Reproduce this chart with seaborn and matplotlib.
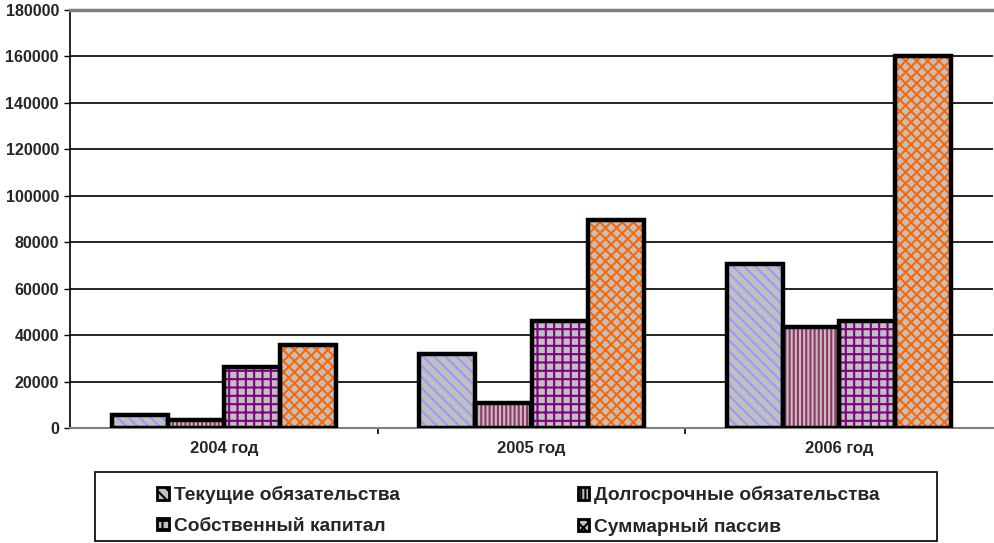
import pandas as pd
import matplotlib
matplotlib.use("Agg")
import matplotlib.pyplot as plt
from matplotlib.patches import Patch, Rectangle
import seaborn as sns

years = ["2004 год", "2005 год", "2006 год"]
series = ["Текущие обязательства", "Долгосрочные обязательства",
          "Собственный капитал", "Суммарный пассив"]
current_liab = [5500, 31900, 70600]
longterm_liab = [3400, 10800, 43500]
equity = [26300, 46100, 46100]
total = [35700, 89600, 160200]

hatch_colors = ["#9999FF", "#993366", "#800080", "#FF6600"]
hatches = ["\\\\\\", "||||", "++", "xxx"]

df = pd.DataFrame({
    "year": years * 4,
    "series": [s for s in series for _ in years],
    "value": current_liab + longterm_liab + equity + total,
})

sns.set_style("white")
plt.rcParams["font.family"] = ["Liberation Sans", "DejaVu Sans"]
plt.rcParams["hatch.linewidth"] = 1.5

fig = plt.figure(figsize=(9.95, 5.43), dpi=100)
ax = fig.add_axes([70 / 995, 115 / 543, 923 / 995, 418 / 543])

sns.barplot(data=df, x="year", y="value", hue="series", hue_order=series,
            width=0.73, gap=0, ax=ax, legend=False, saturation=1,
            palette=["#C0C0C0"] * 4)

for cont, h, hc in zip(ax.containers, hatches, hatch_colors):
    for p in cont:
        p.set_hatch(h)
        p.set_edgecolor(hc)
        p.set_linewidth(0)
        ax.add_patch(Rectangle(p.get_xy(), p.get_width(), p.get_height(),
                               fill=False, ec="black", lw=3.2, zorder=3))

ax.set_ylim(0, 180000)
ax.set_xlim(-0.5, 2.5)
ax.set_yticks(range(0, 180001, 20000))
ax.yaxis.grid(True, color="black", lw=1.2)
ax.set_axisbelow(True)
ax.set_xlabel("")
ax.set_ylabel("")
ax.tick_params(axis="y", labelsize=11.5, length=4, width=1, color="black",
               left=True, pad=4)
ax.tick_params(axis="x", which="major", length=0, labelsize=12, pad=9)
ax.set_xticks([0.5, 1.5], minor=True)
ax.tick_params(axis="x", which="minor", length=4, width=1.2, color="black",
               bottom=True)
for lab in ax.get_yticklabels() + ax.get_xticklabels():
    lab.set_fontweight("bold")

ax.spines["left"].set_color("black")
ax.spines["left"].set_linewidth(1.2)
ax.spines["bottom"].set_color("#808080")
ax.spines["bottom"].set_linewidth(1.5)
ax.spines["top"].set_color("#808080")
ax.spines["top"].set_linewidth(2.5)
ax.spines["right"].set_visible(False)

handles = [Patch(facecolor="#C0C0C0", hatch=h, edgecolor="black", lw=2)
           for h in hatches]
order = [0, 2, 1, 3]
fig.legend([handles[i] for i in order], [series[i] for i in order],
           loc="upper left", bbox_to_anchor=(140 / 995, 1 - 469 / 543),
           ncol=2, frameon=False, handlelength=0.6,
           handleheight=0.6, handletextpad=0.25, columnspacing=9.3,
           labelspacing=0.7, prop={"weight": "bold", "size": 13.8})
fig.add_artist(Rectangle((95 / 995, 2 / 543), 842 / 995, 69 / 543,
                         transform=fig.transFigure, fill=False,
                         ec="black", lw=1.2))

fig.savefig("out.png", dpi=100)
